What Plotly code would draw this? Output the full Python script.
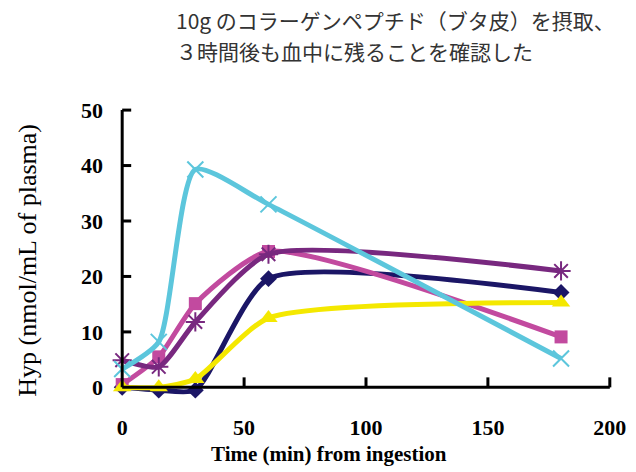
import plotly.graph_objects as go

# Sampling times (min after ingestion)
time_min = [0, 15, 30, 60, 180]

# Plasma Hyp (nmol/mL) for each subject
navy_vals = [0, -0.5, -0.5, 19.6, 17.1]
pink_vals = [0.5, 5.5, 15.1, 24.5, 9.1]
purple_vals = [4.9, 3.7, 11.8, 24.0, 21.0]
yellow_vals = [0, 0, 1.5, 12.5, 15.3]
cyan_vals = [3.3, 8.2, 39.3, 33.0, 5.2]

x_ticks = [0, 50, 100, 150, 200]
y_ticks = [0, 10, 20, 30, 40, 50]

title_lines = ["10g のコラーゲンペプチド（ブタ皮）を摂取、", "３時間後も血中に残ることを確認した"]
x_title = "Time (min) from ingestion"
y_title = "Hyp (nmol/mL of plasma)"

series = [
    ("navy", navy_vals, "#1b1666", "diamond", 13, None),
    ("pink", pink_vals, "#c24a9f", "square", 13, None),
    ("purple", purple_vals, "#78287f", "asterisk-open", 16, 2),
    ("yellow", yellow_vals, "#f4e800", "triangle-up", 16, None),
    ("cyan", cyan_vals, "#5cc6dc", "x-thin-open", 16, 2),
]

fig = go.Figure()
for name, vals, color, symbol, size, mlw in series:
    marker = dict(symbol=symbol, size=size, color=color)
    if mlw:
        marker["line"] = dict(color=color, width=mlw)
    fig.add_trace(go.Scatter(
        x=time_min, y=vals, name=name, mode="lines+markers",
        line=dict(color=color, width=5, shape="spline", smoothing=0.6),
        marker=marker, cliponaxis=False, showlegend=False,
    ))

serif = "Liberation Serif, Times New Roman, serif"

# Axis lines drawn through the origin
shapes = [
    dict(type="line", xref="x", yref="y", x0=0, x1=200, y0=0, y1=0,
         line=dict(color="black", width=3)),
    dict(type="line", xref="x", yref="y", x0=0, x1=0, y0=0, y1=50,
         line=dict(color="black", width=3)),
]
# Inward tick marks
for t in x_ticks[1:]:
    shapes.append(dict(type="line", xref="x", yref="y", ysizemode="pixel", yanchor=0,
                       x0=t, x1=t, y0=0, y1=10, line=dict(color="black", width=3)))
for t in y_ticks[1:]:
    shapes.append(dict(type="line", xref="x", yref="y", xsizemode="pixel", xanchor=0,
                       x0=0, x1=9, y0=t, y1=t, line=dict(color="black", width=3)))

annotations = []
for line_text, ypos in zip(title_lines, [1.259, 1.157]):
    annotations.append(dict(text=line_text, xref="paper", yref="paper", x=0.125, y=ypos,
                            xanchor="left", yanchor="middle", align="left", showarrow=False,
                            font=dict(family="Noto Sans CJK JP", size=21, color="#333333")))
annotations += [
    dict(text=x_title, xref="paper", yref="paper", x=0.427, y=-0.163,
         xanchor="center", yanchor="middle", showarrow=False,
         font=dict(family=serif, size=21, color="black", weight="bold")),
    dict(text=y_title, xref="paper", yref="paper", x=-0.16, y=0.47,
         xanchor="center", yanchor="middle", textangle=-90, showarrow=False,
         font=dict(family=serif, size=26, color="black")),
]

fig.update_layout(
    width=636, height=472,
    margin=dict(l=110, r=10, t=99, b=68),
    paper_bgcolor="white", plot_bgcolor="white",
    shapes=shapes,
    xaxis=dict(range=[-5, 205], tickvals=x_ticks, showgrid=False, zeroline=False,
               showline=False, ticks="", ticklabelstandoff=8,
               tickfont=dict(family=serif, size=22, color="black", weight="bold")),
    yaxis=dict(range=[-3, 52], tickvals=y_ticks, showgrid=False, zeroline=False,
               showline=False, ticks="", ticklabelstandoff=6,
               tickfont=dict(family=serif, size=22, color="black", weight="bold")),
    annotations=annotations,
)

fig.write_html("out.html")
